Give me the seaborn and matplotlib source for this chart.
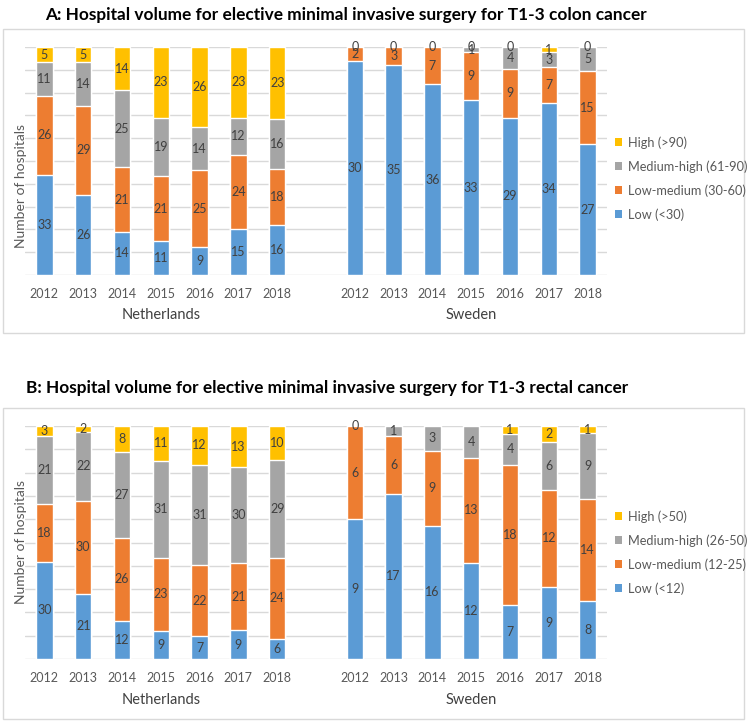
import numpy as np
import pandas as pd
import matplotlib
matplotlib.use("Agg")
import matplotlib.pyplot as plt
from matplotlib.patches import Patch, Rectangle
import seaborn as sns

# ---- data ----
years = ["2012", "2013", "2014", "2015", "2016", "2017", "2018"]
countries = ["Netherlands", "Sweden"]
groups = ["Low", "Low-medium", "Medium-high", "High"]

# colon cancer (panel A)
colon_nl_low = [33, 26, 14, 11, 9, 15, 16]
colon_nl_lowmed = [26, 29, 21, 21, 25, 24, 18]
colon_nl_medhigh = [11, 14, 25, 19, 14, 12, 16]
colon_nl_high = [5, 5, 14, 23, 26, 23, 23]
colon_se_low = [30, 35, 36, 33, 29, 34, 27]
colon_se_lowmed = [2, 3, 7, 9, 9, 7, 15]
colon_se_medhigh = [0, 0, 0, 1, 4, 3, 5]
colon_se_high = [0, 0, 0, 0, 0, 1, 0]
colon_legend = ["Low (<30)", "Low-medium (30-60)", "Medium-high (61-90)", "High (>90)"]

# rectal cancer (panel B) - None = empty cell, no label shown
rectal_nl_low = [30, 21, 12, 9, 7, 9, 6]
rectal_nl_lowmed = [18, 30, 26, 23, 22, 21, 24]
rectal_nl_medhigh = [21, 22, 27, 31, 31, 30, 29]
rectal_nl_high = [3, 2, 8, 11, 12, 13, 10]
rectal_se_low = [9, 17, 16, 12, 7, 9, 8]
rectal_se_lowmed = [6, 6, 9, 13, 18, 12, 14]
rectal_se_medhigh = [0, 1, 3, 4, 4, 6, 9]
rectal_se_high = [0, None, None, None, 1, 2, 1]
rectal_legend = ["Low (<12)", "Low-medium (12-25)", "Medium-high (26-50)", "High (>50)"]

colors = ["#5B9BD5", "#ED7D31", "#A5A5A5", "#FFC000"]
txt_col = "#404040"
tick_col = "#595959"
grid_col = "#D9D9D9"

sns.set_theme(style="white")
plt.rcParams["font.family"] = ["Lato", "DejaVu Sans"]


def build_frame(nl, se):
    # nl / se are lists of 4 series (low..high); returns long frame with positions
    rows = []
    for ci, series in enumerate([nl, se]):
        for yi, yr in enumerate(years):
            raw = [s[yi] for s in series]
            vals = [0 if v is None else v for v in raw]
            total = sum(vals)
            bottom = 0.0
            for gi, g in enumerate(groups):
                share = vals[gi] / total
                rows.append({"pos": ci * 8 + yi, "country": countries[ci], "year": yr,
                             "group": g, "n": vals[gi], "show": raw[gi] is not None,
                             "share": share, "bottom": bottom, "top": bottom + share})
                bottom += share
    return pd.DataFrame(rows)


def draw_panel(ax, df, legend_labels, legend_top, ylab_y):
    # overlay cumulative bars from the top layer down
    for gi in range(len(groups) - 1, -1, -1):
        sub = df[df["group"] == groups[gi]]
        sns.barplot(data=sub, x="pos", y="top", native_scale=True, color=colors[gi],
                    width=0.42, errorbar=None, saturation=1, ax=ax, zorder=3)
    seen = set()
    for _, r in df.iterrows():
        if not r["show"]:
            continue
        ymid = r["bottom"] + r["share"] / 2
        key = (r["pos"], round(ymid, 4), r["n"])
        if key in seen:  # two empty segments at the same spot print the same "0"
            continue
        seen.add(key)
        ax.text(r["pos"], ymid, str(r["n"]), ha="center",
                va="center", fontsize=9, color=txt_col, zorder=5)
    ax.set_xlim(-0.5, 14.5)
    ax.set_ylim(0, 1)
    ax.set_yticks(np.linspace(0, 1, 11))
    ax.set_yticklabels([])
    ax.set_xticks(list(range(7)) + list(range(8, 15)))
    ax.set_xticklabels(years + years, fontsize=9, color=tick_col)
    ax.tick_params(axis="both", length=0)
    ax.tick_params(axis="x", pad=9)
    ax.grid(axis="y", color=grid_col, linewidth=1, zorder=0)
    ax.set_axisbelow(True)
    for s in ax.spines.values():
        s.set_visible(False)
    ax.set_xlabel("")
    ax.set_ylabel("Number of hospitals", fontsize=10, color=tick_col)
    ax.yaxis.set_label_coords(0.004, ylab_y)
    for ci, c in enumerate(countries):
        ax.text(ci * 8 + 3, -0.175, c, transform=ax.get_xaxis_transform(), ha="center",
                va="center", fontsize=10.5, color=txt_col)
    handles = [Patch(facecolor=colors[i], edgecolor="none") for i in range(3, -1, -1)]
    labels = [legend_labels[i] for i in range(3, -1, -1)]
    fig.legend(handles, labels, loc="upper left", bbox_to_anchor=(615 / W, 1 - legend_top / H),
               frameon=False, fontsize=9.2, labelcolor=tick_col, handlelength=0.55,
               handleheight=0.55, handletextpad=0.45, labelspacing=0.9, borderpad=0,
               borderaxespad=0)


W, H = 749, 721
fig = plt.figure(figsize=(W / 100, H / 100), dpi=100)

# panel frames
fig.patches.append(Rectangle((3 / W, 1 - 333 / H), 741 / W, 304 / H, transform=fig.transFigure,
                             facecolor="none", edgecolor=grid_col, linewidth=1, zorder=-1))
fig.patches.append(Rectangle((3 / W, 1 - 719 / H), 741 / W, 311 / H, transform=fig.transFigure,
                             facecolor="none", edgecolor=grid_col, linewidth=1, zorder=-1))

ax_a = fig.add_axes([25 / W, 1 - 275 / H, 582 / W, 228 / H])
ax_b = fig.add_axes([25 / W, 1 - 659 / H, 582 / W, 233 / H])
ax_a.patch.set_alpha(0)
ax_b.patch.set_alpha(0)

df_a = build_frame([colon_nl_low, colon_nl_lowmed, colon_nl_medhigh, colon_nl_high],
                   [colon_se_low, colon_se_lowmed, colon_se_medhigh, colon_se_high])
df_b = build_frame([rectal_nl_low, rectal_nl_lowmed, rectal_nl_medhigh, rectal_nl_high],
                   [rectal_se_low, rectal_se_lowmed, rectal_se_medhigh, rectal_se_high])

draw_panel(ax_a, df_a, colon_legend, 136, 0.39)
draw_panel(ax_b, df_b, rectal_legend, 510, 0.5)

fig.text(346 / W, 1 - 15 / H, "A: Hospital volume for elective minimal invasive surgery for T1-3 colon cancer",
         ha="center", va="center", fontsize=12.4, fontweight="bold", color="black")
fig.text(327 / W, 1 - 388 / H, "B: Hospital volume for elective minimal invasive surgery for T1-3 rectal cancer",
         ha="center", va="center", fontsize=12.4, fontweight="bold", color="black")

fig.savefig("out.png", dpi=100)
